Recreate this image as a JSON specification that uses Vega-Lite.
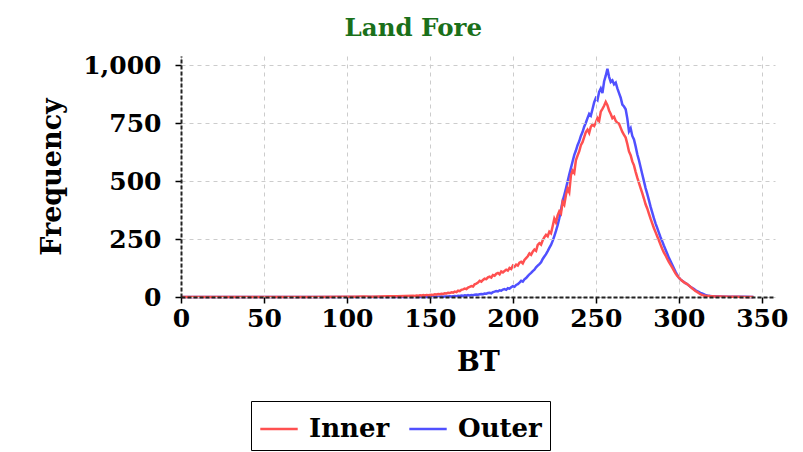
{
  "$schema": "https://vega.github.io/schema/vega-lite/v6.json",
  "width": 594,
  "height": 241,
  "padding": {"left": 38, "top": 15, "right": 10, "bottom": 0},
  "title": {"text": "Land Fore", "color": "#1a701a", "font": "DejaVu Serif", "fontSize": 24.5, "fontWeight": "bold", "anchor": "middle", "frame": "bounds", "offset": 12},
  "config": {
    "view": {"stroke": null},
    "font": "DejaVu Serif",
    "axis": {
      "grid": true,
      "labelFont": "DejaVu Serif", "labelFontWeight": "bold", "labelFontSize": 25, "labelColor": "#000",
      "titleFont": "DejaVu Serif", "titleFontWeight": "bold", "titleFontSize": 27, "titleColor": "#000",
      "gridColor": "#cccccc", "gridDash": [4, 4], "gridWidth": 1,
      "domainColor": "#222", "domainDash": [4, 2], "domainWidth": 2,
      "tickColor": "#000", "tickWidth": 1.5, "tickSize": 6
    }
  },
  "datasets": {
    "hist": [
      {"bt": 0, "Outer": 0, "Inner": 0}, {"bt": 20, "Outer": 0, "Inner": 0}, {"bt": 40, "Outer": 0, "Inner": 0}, {"bt": 60, "Outer": 0, "Inner": 0}, {"bt": 80, "Outer": 0, "Inner": 0}, {"bt": 100, "Outer": 0, "Inner": 1},
      {"bt": 105, "Outer": 0, "Inner": 1}, {"bt": 110, "Outer": 0, "Inner": 2}, {"bt": 115, "Outer": 0, "Inner": 1}, {"bt": 120, "Outer": 0, "Inner": 2}, {"bt": 125, "Outer": 0, "Inner": 3}, {"bt": 130, "Outer": 0, "Inner": 3}, {"bt": 135, "Outer": 0, "Inner": 4}, {"bt": 140, "Outer": 0, "Inner": 5},
      {"bt": 141, "Outer": 0, "Inner": 4}, {"bt": 142, "Outer": 0, "Inner": 6}, {"bt": 143, "Outer": 0, "Inner": 5}, {"bt": 144, "Outer": 0, "Inner": 7}, {"bt": 145, "Outer": 0, "Inner": 6}, {"bt": 146, "Outer": 0, "Inner": 8}, {"bt": 147, "Outer": 0, "Inner": 7}, {"bt": 148, "Outer": 0, "Inner": 9}, {"bt": 149, "Outer": 0, "Inner": 8}, {"bt": 150, "Outer": 0, "Inner": 9},
      {"bt": 151, "Outer": 0, "Inner": 10}, {"bt": 152, "Outer": 1, "Inner": 9}, {"bt": 153, "Outer": 0, "Inner": 12}, {"bt": 154, "Outer": 1, "Inner": 11}, {"bt": 155, "Outer": 1, "Inner": 13}, {"bt": 156, "Outer": 1, "Inner": 12}, {"bt": 157, "Outer": 2, "Inner": 14}, {"bt": 158, "Outer": 1, "Inner": 13}, {"bt": 159, "Outer": 2, "Inner": 16}, {"bt": 160, "Outer": 2, "Inner": 15},
      {"bt": 161, "Outer": 2, "Inner": 18}, {"bt": 162, "Outer": 3, "Inner": 17}, {"bt": 163, "Outer": 2, "Inner": 20}, {"bt": 164, "Outer": 3, "Inner": 19}, {"bt": 165, "Outer": 4, "Inner": 23}, {"bt": 166, "Outer": 3, "Inner": 21}, {"bt": 167, "Outer": 5, "Inner": 27}, {"bt": 168, "Outer": 4, "Inner": 25}, {"bt": 169, "Outer": 6, "Inner": 31}, {"bt": 170, "Outer": 5, "Inner": 33},
      {"bt": 171, "Outer": 7, "Inner": 36}, {"bt": 172, "Outer": 6, "Inner": 34}, {"bt": 173, "Outer": 8, "Inner": 41}, {"bt": 174, "Outer": 7, "Inner": 44}, {"bt": 175, "Outer": 9, "Inner": 47}, {"bt": 176, "Outer": 8, "Inner": 45}, {"bt": 177, "Outer": 10, "Inner": 55}, {"bt": 178, "Outer": 11, "Inner": 58}, {"bt": 179, "Outer": 10, "Inner": 62}, {"bt": 180, "Outer": 12, "Inner": 70},
      {"bt": 181, "Outer": 13, "Inner": 66}, {"bt": 182, "Outer": 12, "Inner": 74}, {"bt": 183, "Outer": 15, "Inner": 79}, {"bt": 184, "Outer": 14, "Inner": 77}, {"bt": 185, "Outer": 17, "Inner": 85}, {"bt": 186, "Outer": 18, "Inner": 88}, {"bt": 187, "Outer": 16, "Inner": 84}, {"bt": 188, "Outer": 21, "Inner": 95}, {"bt": 189, "Outer": 23, "Inner": 92}, {"bt": 190, "Outer": 26, "Inner": 100},
      {"bt": 191, "Outer": 24, "Inner": 104}, {"bt": 192, "Outer": 29, "Inner": 98}, {"bt": 193, "Outer": 27, "Inner": 110}, {"bt": 194, "Outer": 32, "Inner": 106}, {"bt": 195, "Outer": 34, "Inner": 112}, {"bt": 196, "Outer": 31, "Inner": 118}, {"bt": 197, "Outer": 38, "Inner": 114}, {"bt": 198, "Outer": 36, "Inner": 125}, {"bt": 199, "Outer": 42, "Inner": 121}, {"bt": 200, "Outer": 47, "Inner": 135},
      {"bt": 201, "Outer": 44, "Inner": 130}, {"bt": 202, "Outer": 52, "Inner": 140}, {"bt": 203, "Outer": 55, "Inner": 136}, {"bt": 204, "Outer": 62, "Inner": 148}, {"bt": 205, "Outer": 70, "Inner": 152}, {"bt": 206, "Outer": 66, "Inner": 145}, {"bt": 207, "Outer": 76, "Inner": 160}, {"bt": 208, "Outer": 82, "Inner": 168}, {"bt": 209, "Outer": 90, "Inner": 176}, {"bt": 210, "Outer": 98, "Inner": 188},
      {"bt": 211, "Outer": 104, "Inner": 182}, {"bt": 212, "Outer": 112, "Inner": 196}, {"bt": 213, "Outer": 118, "Inner": 205}, {"bt": 214, "Outer": 128, "Inner": 199}, {"bt": 215, "Outer": 135, "Inner": 225}, {"bt": 216, "Outer": 142, "Inner": 232}, {"bt": 217, "Outer": 150, "Inner": 226}, {"bt": 218, "Outer": 164, "Inner": 245}, {"bt": 219, "Outer": 175, "Inner": 258}, {"bt": 220, "Outer": 185, "Inner": 268},
      {"bt": 221, "Outer": 198, "Inner": 262}, {"bt": 222, "Outer": 212, "Inner": 282}, {"bt": 223, "Outer": 225, "Inner": 275}, {"bt": 224, "Outer": 242, "Inner": 305}, {"bt": 225, "Outer": 263, "Inner": 338}, {"bt": 226, "Outer": 285, "Inner": 322}, {"bt": 227, "Outer": 310, "Inner": 352}, {"bt": 228, "Outer": 340, "Inner": 370}, {"bt": 229, "Outer": 375, "Inner": 360}, {"bt": 230, "Outer": 414, "Inner": 410},
      {"bt": 231, "Outer": 440, "Inner": 398}, {"bt": 232, "Outer": 468, "Inner": 440}, {"bt": 233, "Outer": 498, "Inner": 468}, {"bt": 234, "Outer": 528, "Inner": 452}, {"bt": 235, "Outer": 556, "Inner": 525}, {"bt": 236, "Outer": 585, "Inner": 545}, {"bt": 237, "Outer": 612, "Inner": 535}, {"bt": 238, "Outer": 632, "Inner": 590}, {"bt": 239, "Outer": 655, "Inner": 610}, {"bt": 240, "Outer": 672, "Inner": 628},
      {"bt": 241, "Outer": 695, "Inner": 655}, {"bt": 242, "Outer": 712, "Inner": 668}, {"bt": 243, "Outer": 735, "Inner": 690}, {"bt": 244, "Outer": 752, "Inner": 712}, {"bt": 245, "Outer": 772, "Inner": 722}, {"bt": 246, "Outer": 790, "Inner": 708}, {"bt": 247, "Outer": 782, "Inner": 735}, {"bt": 248, "Outer": 810, "Inner": 745}, {"bt": 249, "Outer": 840, "Inner": 738}, {"bt": 250, "Outer": 858, "Inner": 752},
      {"bt": 251, "Outer": 850, "Inner": 772}, {"bt": 252, "Outer": 885, "Inner": 760}, {"bt": 253, "Outer": 900, "Inner": 800}, {"bt": 254, "Outer": 880, "Inner": 812}, {"bt": 255, "Outer": 930, "Inner": 825}, {"bt": 256, "Outer": 955, "Inner": 842}, {"bt": 257, "Outer": 985, "Inner": 828}, {"bt": 258, "Outer": 950, "Inner": 805}, {"bt": 259, "Outer": 928, "Inner": 790}, {"bt": 260, "Outer": 935, "Inner": 772},
      {"bt": 261, "Outer": 918, "Inner": 778}, {"bt": 262, "Outer": 925, "Inner": 760}, {"bt": 263, "Outer": 900, "Inner": 752}, {"bt": 264, "Outer": 880, "Inner": 748}, {"bt": 265, "Outer": 860, "Inner": 730}, {"bt": 266, "Outer": 830, "Inner": 712}, {"bt": 267, "Outer": 822, "Inner": 700}, {"bt": 268, "Outer": 810, "Inner": 688}, {"bt": 269, "Outer": 770, "Inner": 660}, {"bt": 270, "Outer": 715, "Inner": 628},
      {"bt": 271, "Outer": 728, "Inner": 612}, {"bt": 272, "Outer": 695, "Inner": 585}, {"bt": 273, "Outer": 680, "Inner": 568}, {"bt": 274, "Outer": 650, "Inner": 540}, {"bt": 275, "Outer": 616, "Inner": 515}, {"bt": 276, "Outer": 590, "Inner": 492}, {"bt": 277, "Outer": 560, "Inner": 470}, {"bt": 278, "Outer": 530, "Inner": 448}, {"bt": 279, "Outer": 500, "Inner": 425}, {"bt": 280, "Outer": 470, "Inner": 400},
      {"bt": 281, "Outer": 445, "Inner": 382}, {"bt": 282, "Outer": 418, "Inner": 360}, {"bt": 283, "Outer": 390, "Inner": 338}, {"bt": 284, "Outer": 365, "Inner": 318}, {"bt": 285, "Outer": 340, "Inner": 298}, {"bt": 286, "Outer": 318, "Inner": 280}, {"bt": 287, "Outer": 298, "Inner": 262}, {"bt": 288, "Outer": 278, "Inner": 245}, {"bt": 289, "Outer": 258, "Inner": 226}, {"bt": 290, "Outer": 241, "Inner": 208},
      {"bt": 291, "Outer": 222, "Inner": 192}, {"bt": 292, "Outer": 205, "Inner": 180}, {"bt": 293, "Outer": 188, "Inner": 165}, {"bt": 294, "Outer": 170, "Inner": 152}, {"bt": 295, "Outer": 155, "Inner": 140}, {"bt": 296, "Outer": 140, "Inner": 128}, {"bt": 297, "Outer": 125, "Inner": 115}, {"bt": 298, "Outer": 110, "Inner": 102}, {"bt": 299, "Outer": 96, "Inner": 92}, {"bt": 300, "Outer": 84, "Inner": 84},
      {"bt": 301, "Outer": 76, "Inner": 76}, {"bt": 302, "Outer": 70, "Inner": 70}, {"bt": 303, "Outer": 66, "Inner": 64}, {"bt": 304, "Outer": 60, "Inner": 60}, {"bt": 305, "Outer": 56, "Inner": 56}, {"bt": 306, "Outer": 50, "Inner": 50}, {"bt": 307, "Outer": 44, "Inner": 44}, {"bt": 308, "Outer": 40, "Inner": 38}, {"bt": 309, "Outer": 35, "Inner": 32}, {"bt": 310, "Outer": 30, "Inner": 26},
      {"bt": 311, "Outer": 26, "Inner": 22}, {"bt": 312, "Outer": 22, "Inner": 17}, {"bt": 313, "Outer": 18, "Inner": 12}, {"bt": 314, "Outer": 15, "Inner": 9}, {"bt": 315, "Outer": 12, "Inner": 6}, {"bt": 316, "Outer": 9, "Inner": 5}, {"bt": 317, "Outer": 7, "Inner": 4}, {"bt": 318, "Outer": 5, "Inner": 4}, {"bt": 319, "Outer": 4, "Inner": 3}, {"bt": 320, "Outer": 3, "Inner": 3},
      {"bt": 322, "Outer": 3, "Inner": 2}, {"bt": 325, "Outer": 2, "Inner": 2}, {"bt": 330, "Outer": 1, "Inner": 1}, {"bt": 335, "Outer": 1, "Inner": 1}, {"bt": 340, "Outer": 1, "Inner": 0}, {"bt": 345, "Outer": 0, "Inner": 0}
    ]
  },
  "encoding": {
    "x": {"field": "bt", "type": "quantitative", "title": "BT",
          "scale": {"domain": [0, 358], "nice": false, "zero": false},
          "axis": {"values": [0, 50, 100, 150, 200, 250, 300, 350], "labelFlush": false, "labelPadding": 3, "titlePadding": 18, "grid": true, "zindex": 1}},
    "y": {"field": "count", "type": "quantitative", "title": "Frequency",
          "scale": {"domain": [0, 1040], "nice": false},
          "axis": {"values": [0, 250, 500, 750, 1000], "format": ",d", "labelPadding": 14, "titlePadding": 16, "grid": true, "zindex": 1}},
    "color": {"field": "series", "type": "nominal",
              "scale": {"domain": ["Inner", "Outer"], "range": ["#ff5050", "#5050ff"]},
              "legend": {"title": null, "orient": "none", "legendX": 70, "legendY": 345, "direction": "horizontal",
                         "strokeColor": "#000", "padding": 8, "symbolType": "stroke", "symbolSize": 1400, "symbolStrokeWidth": 2.5,
                         "labelFont": "DejaVu Serif", "labelFontWeight": "bold", "labelFontSize": 26, "labelColor": "#000", "columnPadding": 14, "labelOffset": 10}}
  },
  "layer": [
    {
      "data": {"name": "hist"},
      "transform": [{"fold": ["Outer"], "as": ["series", "count"]}],
      "mark": {"type": "line", "strokeWidth": 2.5}
    },
    {
      "data": {"name": "hist"},
      "transform": [{"fold": ["Inner"], "as": ["series", "count"]}],
      "mark": {"type": "line", "strokeWidth": 2.5}
    }
  ]
}
